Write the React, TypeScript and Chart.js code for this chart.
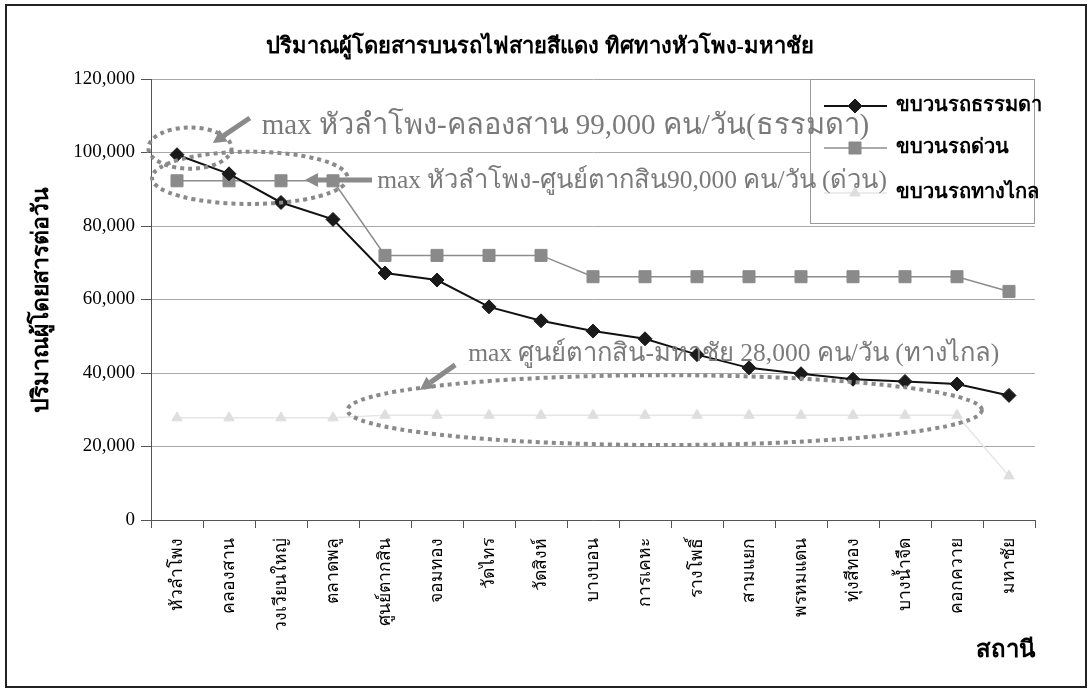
import React, { useEffect, useRef } from 'react';
import { Chart, registerables } from 'chart.js';

Chart.register(...registerables);

const chartTitle = 'ปริมาณผู้โดยสารบนรถไฟสายสีแดง ทิศทางหัวโพง-มหาชัย';
const yAxisTitle = 'ปริมาณผู้โดยสารต่อวัน';
const xAxisTitle = 'สถานี';

const stations = [
  'หัวลำโพง', 'คลองสาน', 'วงเวียนใหญ่', 'ตลาดพลู', 'ศูนย์ตากสิน', 'จอมทอง', 'วัดไทร', 'วัดสิงห์',
  'บางบอน', 'การเคหะ', 'รางโพธิ์', 'สามแยก', 'พรหมแดน', 'ทุ่งสีทอง', 'บางน้ำจืด', 'คอกควาย', 'มหาชัย',
];

const seriesNames = ['ขบวนรถธรรมดา', 'ขบวนรถด่วน', 'ขบวนรถทางไกล'];

const ordinary = [99400, 94200, 86400, 81800, 67200, 65300, 58000, 54200, 51400, 49300, 45000, 41400, 39800, 38300, 37700, 37000, 33900];
const express = [92300, 92300, 92300, 92300, 72000, 72000, 72000, 72000, 66200, 66200, 66200, 66200, 66200, 66200, 66200, 66200, 62200];
const longDistance = [27800, 27800, 27800, 27800, 28500, 28500, 28500, 28500, 28500, 28500, 28500, 28500, 28500, 28500, 28500, 28500, 12000];

const yMin = 0;
const yMax = 120000;
const yStep = 20000;

// annotation texts (anchored in category-index / value units)
const noteTexts = [
  { text: 'max หัวลำโพง-คลองสาน 99,000 คน/วัน(ธรรมดา)', at: [1.63, 107200], size: 29 },
  { text: 'max หัวลำโพง-ศูนย์ตากสิน90,000 คน/วัน (ด่วน)', at: [3.85, 92300], size: 25.5 },
  { text: 'max ศูนย์ตากสิน-มหาชัย 28,000 คน/วัน (ทางไกล)', at: [5.6, 45200], size: 25.5 },
];
const noteArrows = [
  { from: [1.4, 109400], to: [0.69, 102600] },
  { from: [3.75, 92500], to: [2.46, 92500] },
  { from: [5.35, 42200], to: [4.67, 35400] },
];
const noteEllipses = [
  { center: [0.25, 101200], rx: 0.8, ry: 5600 },
  { center: [1.4, 93100], rx: 1.88, ry: 7100 },
  { center: [9.38, 29900], rx: 6.1, ry: 9500 },
];

const SERIF = "'Liberation Serif', 'DejaVu Serif', serif";
const THAI = "'Liberation Serif', 'Noto Sans', 'DejaVu Sans', sans-serif";

function drawMarker(ctx: CanvasRenderingContext2D, style: string, x: number, y: number, r: number, fill: string, stroke: string) {
  ctx.save();
  ctx.fillStyle = fill;
  ctx.strokeStyle = stroke;
  ctx.lineWidth = 1;
  ctx.beginPath();
  if (style === 'rectRot') {
    ctx.moveTo(x, y - r);
    ctx.lineTo(x + r, y);
    ctx.lineTo(x, y + r);
    ctx.lineTo(x - r, y);
    ctx.closePath();
  } else if (style === 'rect') {
    const s = r * Math.SQRT1_2;
    ctx.rect(x - s, y - s, 2 * s, 2 * s);
  } else {
    ctx.moveTo(x, y - r);
    ctx.lineTo(x + r * 0.87, y + r * 0.5);
    ctx.lineTo(x - r * 0.87, y + r * 0.5);
    ctx.closePath();
  }
  ctx.fill();
  ctx.stroke();
  ctx.restore();
}

const titlePlugin = {
  id: 'pageTitle',
  afterDraw(chart: any) {
    const { ctx } = chart;
    ctx.save();
    ctx.fillStyle = '#000';
    ctx.font = `bold 22px ${THAI}`;
    ctx.textAlign = 'center';
    ctx.textBaseline = 'middle';
    ctx.fillText(chartTitle, 540, 47);
    ctx.restore();
  },
};

const legendPlugin = {
  id: 'boxLegend',
  afterDraw(chart: any) {
    const { ctx, chartArea } = chart;
    const w = 225;
    const h = 145;
    const left = chartArea.right - w;
    const top = chartArea.top;
    ctx.save();
    ctx.fillStyle = '#ffffff';
    ctx.fillRect(left, top, w, h);
    ctx.strokeStyle = '#9a9a9a';
    ctx.lineWidth = 1;
    ctx.strokeRect(left + 0.5, top + 0.5, w - 1, h - 1);
    const rows = [27, 69, 114];
    chart.data.datasets.forEach((ds: any, i: number) => {
      const y = top + rows[i];
      ctx.strokeStyle = ds.borderColor;
      ctx.lineWidth = ds.borderWidth;
      ctx.beginPath();
      ctx.moveTo(left + 14, y);
      ctx.lineTo(left + 77, y);
      ctx.stroke();
      drawMarker(ctx, ds.pointStyle, left + 45, y, ds.pointRadius, ds.pointBackgroundColor, ds.pointBorderColor);
      ctx.fillStyle = '#000';
      ctx.font = `bold 20px ${THAI}`;
      ctx.textAlign = 'left';
      ctx.textBaseline = 'middle';
      ctx.fillText(ds.label, left + 86, y);
    });
    ctx.restore();
  },
};

const annotationPlugin = {
  id: 'notes',
  afterDraw(chart: any) {
    const { ctx, scales } = chart;
    const xs = scales.x;
    const ys = scales.y;
    const px = (v: number) => xs.getPixelForValue(v);
    const py = (v: number) => ys.getPixelForValue(v);
    const catW = xs.width / stations.length;
    const grey = '#8a8a8a';
    ctx.save();
    ctx.strokeStyle = grey;
    ctx.lineWidth = 4;
    ctx.setLineDash([4, 4]);
    noteEllipses.forEach((e) => {
      const cx = px(e.center[0]);
      const cy = py(e.center[1]);
      const rx = e.rx * catW;
      const ry = Math.abs(py(0) - py(e.ry));
      ctx.beginPath();
      ctx.ellipse(cx, cy, rx, ry, 0, 0, Math.PI * 2);
      ctx.stroke();
    });
    ctx.setLineDash([]);
    noteArrows.forEach((a) => {
      const x1 = px(a.from[0]);
      const y1 = py(a.from[1]);
      const x2 = px(a.to[0]);
      const y2 = py(a.to[1]);
      const ang = Math.atan2(y2 - y1, x2 - x1);
      const head = 13;
      const hw = 7;
      const bx = x2 - head * Math.cos(ang);
      const by = y2 - head * Math.sin(ang);
      ctx.strokeStyle = grey;
      ctx.lineWidth = 5;
      ctx.beginPath();
      ctx.moveTo(x1, y1);
      ctx.lineTo(bx, by);
      ctx.stroke();
      ctx.fillStyle = grey;
      ctx.beginPath();
      ctx.moveTo(x2, y2);
      ctx.lineTo(bx + hw * Math.sin(ang), by - hw * Math.cos(ang));
      ctx.lineTo(bx - hw * Math.sin(ang), by + hw * Math.cos(ang));
      ctx.closePath();
      ctx.fill();
    });
    ctx.fillStyle = '#7a7a7a';
    ctx.textAlign = 'left';
    ctx.textBaseline = 'middle';
    noteTexts.forEach((t) => {
      ctx.font = `${t.size}px ${SERIF}`;
      ctx.fillText(t.text, px(t.at[0]), py(t.at[1]));
    });
    ctx.restore();
  },
};

export default function App() {
  const canvasRef = useRef<HTMLCanvasElement | null>(null);

  useEffect(() => {
    if (!canvasRef.current) return;
    const chart = new Chart(canvasRef.current, {
      type: 'line',
      data: {
        labels: stations,
        datasets: [
          {
            label: seriesNames[0],
            data: ordinary,
            borderColor: '#111111',
            borderWidth: 2,
            pointStyle: 'rectRot',
            pointRadius: 7,
            pointBackgroundColor: '#1a1a1a',
            pointBorderColor: '#1a1a1a',
            pointBorderWidth: 1,
            tension: 0,
          },
          {
            label: seriesNames[1],
            data: express,
            borderColor: '#8c8c8c',
            borderWidth: 1.5,
            pointStyle: 'rect',
            pointRadius: 8.5,
            pointBackgroundColor: '#8a8a8a',
            pointBorderColor: '#8a8a8a',
            pointBorderWidth: 1,
            tension: 0,
          },
          {
            label: seriesNames[2],
            data: longDistance,
            borderColor: '#e6e6e6',
            borderWidth: 1.5,
            pointStyle: 'triangle',
            pointRadius: 6,
            pointBackgroundColor: '#dedede',
            pointBorderColor: '#dedede',
            pointBorderWidth: 1,
            tension: 0,
          },
        ],
      },
      options: {
        responsive: false,
        animation: false,
        layout: { padding: { left: 0, right: 56, top: 79, bottom: 0 } },
        plugins: {
          legend: { display: false },
          tooltip: { enabled: false },
          title: { display: false },
        },
        scales: {
          x: {
            offset: true,
            grid: { offset: true, drawOnChartArea: false, drawTicks: true, tickLength: 8, color: '#555' },
            border: { color: '#555', width: 1 },
            ticks: {
              autoSkip: false,
              minRotation: 90,
              maxRotation: 90,
              padding: 10,
              color: '#000',
              font: { family: THAI, size: 17.5 },
            },
            title: {
              display: true,
              text: xAxisTitle,
              align: 'end',
              color: '#000',
              font: { family: THAI, size: 24, weight: 'bold' },
              padding: { top: 4, bottom: 25 },
            },
            afterFit: (s: any) => {
              s.height = 170;
            },
          },
          y: {
            min: yMin,
            max: yMax,
            grid: { color: '#a8a8a8', tickLength: 10, tickColor: '#555' },
            border: { color: '#555', width: 1 },
            ticks: {
              stepSize: yStep,
              padding: 6,
              color: '#000',
              font: { family: SERIF, size: 19 },
              callback: (v: any) => Number(v).toLocaleString('en-US'),
            },
            title: {
              display: true,
              text: yAxisTitle,
              color: '#000',
              font: { family: THAI, size: 23, weight: 'bold' },
              padding: { top: 28, bottom: 4 },
            },
            afterFit: (s: any) => {
              s.width = 151;
            },
          },
        },
      },
      plugins: [titlePlugin, legendPlugin, annotationPlugin],
    } as any);
    return () => chart.destroy();
  }, []);

  return (
    <div style={{ position: 'absolute', left: 0, top: 0, width: 1091, height: 690, background: '#fff' }}>
      <canvas ref={canvasRef} width={1091} height={690} style={{ position: 'absolute', left: 0, top: 0 }} />
      <div
        style={{
          position: 'absolute',
          left: 5,
          top: 4,
          width: 1082,
          height: 684,
          boxSizing: 'border-box',
          border: '2px solid #222',
          pointerEvents: 'none',
        }}
      />
    </div>
  );
}
